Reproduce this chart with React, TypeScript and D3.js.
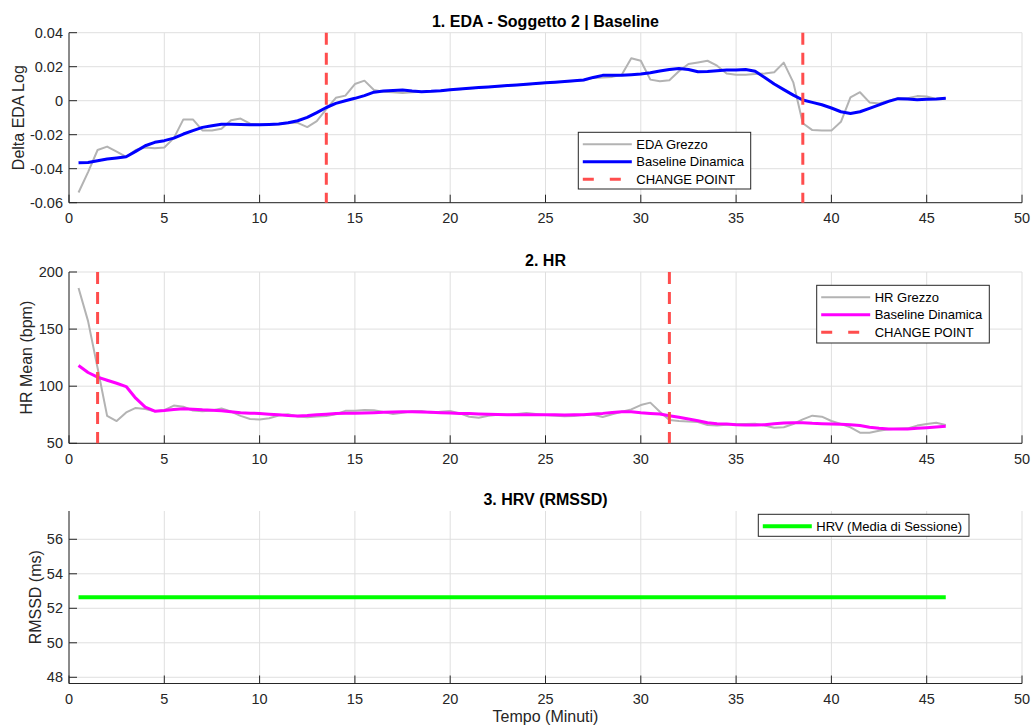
import * as d3 from "d3"

// time axis (minutes)
const TIME = [
  0.5, 1, 1.5, 2, 2.5, 3, 3.5, 4, 4.5, 5,
  5.5, 6, 6.5, 7, 7.5, 8, 8.5, 9, 9.5, 10,
  10.5, 11, 11.5, 12, 12.5, 13, 13.5, 14, 14.5, 15,
  15.5, 16, 16.5, 17, 17.5, 18, 18.5, 19, 19.5, 20,
  20.5, 21, 21.5, 22, 22.5, 23, 23.5, 24, 24.5, 25,
  25.5, 26, 26.5, 27, 27.5, 28, 28.5, 29, 29.5, 30,
  30.5, 31, 31.5, 32, 32.5, 33, 33.5, 34, 34.5, 35,
  35.5, 36, 36.5, 37, 37.5, 38, 38.5, 39, 39.5, 40,
  40.5, 41, 41.5, 42, 42.5, 43, 43.5, 44, 44.5, 45,
  45.5, 46,
]

const EDA_RAW = [
  -0.054, -0.042, -0.029, -0.027, -0.03, -0.033, -0.029, -0.0275, -0.028, -0.0275,
  -0.022, -0.011, -0.011, -0.0175, -0.0175, -0.0165, -0.0115, -0.0105, -0.0135, -0.014,
  -0.014, -0.0138, -0.013, -0.013, -0.0155, -0.012, -0.005, 0.0017, 0.003, 0.0098,
  0.0118, 0.0063, 0.0053, 0.005, 0.0045, 0.005, 0.0052, 0.0054, 0.0058, 0.0064,
  0.0068, 0.0072, 0.0076, 0.008, 0.0084, 0.0088, 0.0092, 0.0096, 0.01, 0.0104,
  0.0108, 0.0112, 0.0116, 0.012, 0.0133, 0.0137, 0.014, 0.0153, 0.025, 0.0235,
  0.0124, 0.0114, 0.012, 0.0173, 0.0216, 0.0225, 0.0235, 0.0206, 0.016, 0.0153,
  0.0153, 0.0157, 0.016, 0.0167, 0.0224, 0.0108, -0.0133, -0.0173, -0.0176, -0.0176,
  -0.0124, 0.002, 0.005, -0.001, -0.0016, 0, 0.0014, 0.0014, 0.0027, 0.0025,
  0.001, 0.0014,
]

const EDA_BASE = [
  -0.0365, -0.0363, -0.0353, -0.0343, -0.0337, -0.033, -0.0298, -0.0265, -0.0245, -0.0235,
  -0.022, -0.0196, -0.0176, -0.0157, -0.0147, -0.0139, -0.0138, -0.014, -0.0142, -0.0142,
  -0.014, -0.0137, -0.013, -0.0118, -0.0098, -0.007, -0.004, -0.0016, 0, 0.0014,
  0.003, 0.005, 0.0057, 0.006, 0.0063, 0.0057, 0.0053, 0.0055, 0.0059, 0.0065,
  0.0069, 0.0073, 0.0077, 0.0081, 0.0085, 0.0089, 0.0093, 0.0097, 0.0101, 0.0105,
  0.0109, 0.0113, 0.0117, 0.0122, 0.0137, 0.0149, 0.015, 0.015, 0.0153, 0.0157,
  0.0165, 0.0175, 0.0184, 0.019, 0.0184, 0.017, 0.0172, 0.0176, 0.018, 0.018,
  0.0184, 0.0173, 0.0137, 0.0098, 0.0065, 0.0033, 0.0004, -0.001, -0.0024, -0.0043,
  -0.0065, -0.0075, -0.0065, -0.0045, -0.0024, -0.0004, 0.0012, 0.001, 0.0006, 0.0008,
  0.001, 0.0014,
]

const EDA_CHANGE = [13.5, 38.5]

const HR_RAW = [
  186, 157, 116, 74, 69.5, 77, 81, 80, 78, 79,
  83, 82, 78.7, 78, 78.7, 80.5, 77.8, 74, 71.3, 70.8,
  72, 74.3, 75.4, 73.4, 72.8, 73.4, 74, 75.4, 78.4, 78.6,
  79.2, 78.9, 77.4, 75.7, 76.8, 78, 78.3, 76.8, 77.7, 78.3,
  76.2, 73.3, 72.4, 74.2, 75.1, 75, 75.7, 76.5, 75.7, 74.8,
  74.2, 73.6, 73.9, 75.1, 75, 73, 75.4, 77.7, 79.7, 83.5,
  85.6, 77.7, 70.4, 69.5, 69, 68.7, 66, 65.5, 66.3, 66.9,
  66.9, 67.2, 65.5, 63.7, 64, 66.9, 71, 74.2, 73.3, 69.5,
  66.9, 64, 59.3, 59.3, 61, 62.2, 62.8, 63.1, 65.5, 66.9,
  68, 66,
]

const HR_BASE = [
  118.1, 112, 107.9, 105.2, 102.6, 99.7, 89.5, 81.6, 78.1, 78.7,
  79.6, 80.2, 79.9, 79.3, 79, 78.4, 77.6, 76.7, 76.4, 76.1,
  75.5, 75, 74.3, 74, 74.3, 75, 75.5, 76.1, 76.4, 76.4,
  76.6, 76.8, 77.1, 77.4, 77.6, 77.7, 77.4, 77.1, 76.8, 76.5,
  76.2, 76, 75.7, 75.4, 75.2, 75.1, 75.1, 75.1, 75.1, 75.1,
  75, 74.8, 75, 75.1, 75.6, 76.2, 77, 77.7, 77.7, 76.8,
  76.2, 75.7, 74.2, 72.8, 71.3, 69.8, 68, 67.2, 66.9, 66.3,
  66, 66, 66.3, 67.2, 67.8, 68, 68, 67.5, 67.2, 66.9,
  66.6, 66.3, 65.5, 64, 63.1, 62.5, 62.5, 62.5, 63.1, 63.7,
  64.3, 64.9,
]

const HR_CHANGE = [1.5, 31.5]

const HRV_MEAN = 52.64
const HRV_SPAN = [0.5, 46]

const X_TICKS = [0, 5, 10, 15, 20, 25, 30, 35, 40, 45, 50]
const EDA_TICKS = [-0.06, -0.04, -0.02, 0, 0.02, 0.04]
const HR_TICKS = [50, 100, 150, 200]
const HRV_TICKS = [48, 50, 52, 54, 56]

const W = 1032
const H = 726
const LEFT = 69
const RIGHT = 1022
const FONT = "'Liberation Sans', Arial, Helvetica, sans-serif"
const AX = "#262626"
const GRID = "#dfdfdf"
const RED = "#ff4d4d"

const x = d3.scaleLinear().domain([0, 50]).range([LEFT, RIGHT])

function Axes({ y, ticks, fmt, top, bottom, title, ylabel, ylabelX }) {
  const mid = (top + bottom) / 2
  return (
    <g>
      {X_TICKS.map(t => (
        <line key={'gx' + t} x1={x(t)} x2={x(t)} y1={top} y2={bottom} stroke={GRID} />
      ))}
      {ticks.map(t => (
        <line key={'gy' + t} x1={LEFT} x2={RIGHT} y1={y(t)} y2={y(t)} stroke={GRID} />
      ))}
      <line x1={LEFT} x2={LEFT} y1={top} y2={bottom} stroke={AX} />
      <line x1={LEFT} x2={RIGHT} y1={bottom} y2={bottom} stroke={AX} />
      {X_TICKS.map(t => (
        <g key={'tx' + t}>
          <line x1={x(t)} x2={x(t)} y1={bottom} y2={bottom - 8} stroke={AX} />
          <text x={x(t)} y={bottom + 20.5} textAnchor="middle" fontSize={14.5} fill={AX}>{t}</text>
        </g>
      ))}
      {ticks.map(t => (
        <g key={'ty' + t}>
          <line x1={LEFT} x2={LEFT + 8} y1={y(t)} y2={y(t)} stroke={AX} />
          <text x={LEFT - 6} y={y(t) + 5} textAnchor="end" fontSize={14.5} fill={AX}>{fmt(t)}</text>
        </g>
      ))}
      <text x={(LEFT + RIGHT) / 2} y={top - 6} textAnchor="middle" fontSize={16} fontWeight={700} fill="#000">
        {title}
      </text>
      <text
        transform={`translate(${ylabelX},${mid}) rotate(-90)`}
        textAnchor="middle"
        fontSize={16}
        fill={AX}
      >
        {ylabel}
      </text>
    </g>
  )
}

function ChangeLines({ points, y0, y1 }) {
  return (
    <g>
      {points.map(p => (
        <line key={p} x1={x(p)} x2={x(p)} y1={y0} y2={y1} stroke={RED} strokeWidth={3} strokeDasharray="12 8" />
      ))}
    </g>
  )
}

function Legend({ x0, y0, w, h, items }) {
  return (
    <g>
      <rect x={x0} y={y0} width={w} height={h} fill="#fff" stroke={AX} strokeWidth={1} />
      {items.map((it, i) => {
        const ry = y0 + 12 + i * 17.5
        return (
          <g key={it.label}>
            <line
              x1={x0 + 4.5}
              x2={x0 + 53.5}
              y1={ry}
              y2={ry}
              stroke={it.color}
              strokeWidth={it.width}
              strokeDasharray={it.dash || null}
            />
            <text x={x0 + 58} y={ry + 4.5} fontSize={13} fill="#000">{it.label}</text>
          </g>
        )
      })}
    </g>
  )
}

export default function App() {
  const p1 = { top: 32.7, bottom: 202.7 }
  const p2 = { top: 272, bottom: 443.3 }
  const p3 = { top: 511, bottom: 683.5 }

  const yEda = d3.scaleLinear().domain([-0.06, 0.04]).range([p1.bottom, p1.top])
  const yHr = d3.scaleLinear().domain([50, 200]).range([p2.bottom, p2.top])
  const yHrv = d3.scaleLinear().domain([HRV_MEAN - 5, HRV_MEAN + 5]).range([p3.bottom, p3.top])

  const lineOf = (ys, yScale) =>
    d3.line<number>().x((_, i) => x(TIME[i])).y(d => yScale(d))(ys)

  const edaFmt = d => (d === 0 ? '0' : d.toFixed(2))
  const intFmt = d => String(d)

  return (
    <svg
      width={W}
      height={H}
      style={{ position: 'absolute', left: 0, top: 0, background: '#fff', fontFamily: FONT }}
    >
      <rect width={W} height={H} fill="#fff" />

      {/* 1. EDA */}
      <Axes y={yEda} ticks={EDA_TICKS} fmt={edaFmt} top={p1.top} bottom={p1.bottom}
        title="1. EDA - Soggetto 2 | Baseline" ylabel="Delta EDA Log" ylabelX={24} />
      <path d={lineOf(EDA_RAW, yEda)} fill="none" stroke="#b3b3b3" strokeWidth={2} strokeLinejoin="round" />
      <path d={lineOf(EDA_BASE, yEda)} fill="none" stroke="#0000ff" strokeWidth={3} strokeLinejoin="round" />
      <ChangeLines points={EDA_CHANGE} y0={p1.top} y1={p1.bottom} />
      <Legend x0={578.3} y0={132.3} w={172.4} h={56.7} items={[
        { label: 'EDA Grezzo', color: '#b3b3b3', width: 2 },
        { label: 'Baseline Dinamica', color: '#0000ff', width: 3 },
        { label: 'CHANGE POINT', color: RED, width: 3, dash: '11 16' },
      ]} />

      {/* 2. HR */}
      <Axes y={yHr} ticks={HR_TICKS} fmt={intFmt} top={p2.top} bottom={p2.bottom}
        title="2. HR" ylabel="HR Mean (bpm)" ylabelX={32.4} />
      <path d={lineOf(HR_RAW, yHr)} fill="none" stroke="#b3b3b3" strokeWidth={2} strokeLinejoin="round" />
      <path d={lineOf(HR_BASE, yHr)} fill="none" stroke="#ff00ff" strokeWidth={3} strokeLinejoin="round" />
      <ChangeLines points={HR_CHANGE} y0={p2.top} y1={p2.bottom} />
      <Legend x0={816.7} y0={285.3} w={172.6} h={57.7} items={[
        { label: 'HR Grezzo', color: '#b3b3b3', width: 2 },
        { label: 'Baseline Dinamica', color: '#ff00ff', width: 3 },
        { label: 'CHANGE POINT', color: RED, width: 3, dash: '11 16' },
      ]} />

      {/* 3. HRV */}
      <Axes y={yHrv} ticks={HRV_TICKS} fmt={intFmt} top={p3.top} bottom={p3.bottom}
        title="3. HRV (RMSSD)" ylabel="RMSSD (ms)" ylabelX={40.7} />
      <line x1={x(HRV_SPAN[0])} x2={x(HRV_SPAN[1])} y1={yHrv(HRV_MEAN)} y2={yHrv(HRV_MEAN)}
        stroke="#00ff00" strokeWidth={4} />
      <Legend x0={758.3} y0={514.3} w={210.7} h={22} items={[
        { label: 'HRV (Media di Sessione)', color: '#00ff00', width: 4 },
      ]} />

      <text x={(LEFT + RIGHT) / 2} y={722} textAnchor="middle" fontSize={16} fill={AX}>
        Tempo (Minuti)
      </text>
    </svg>
  )
}
